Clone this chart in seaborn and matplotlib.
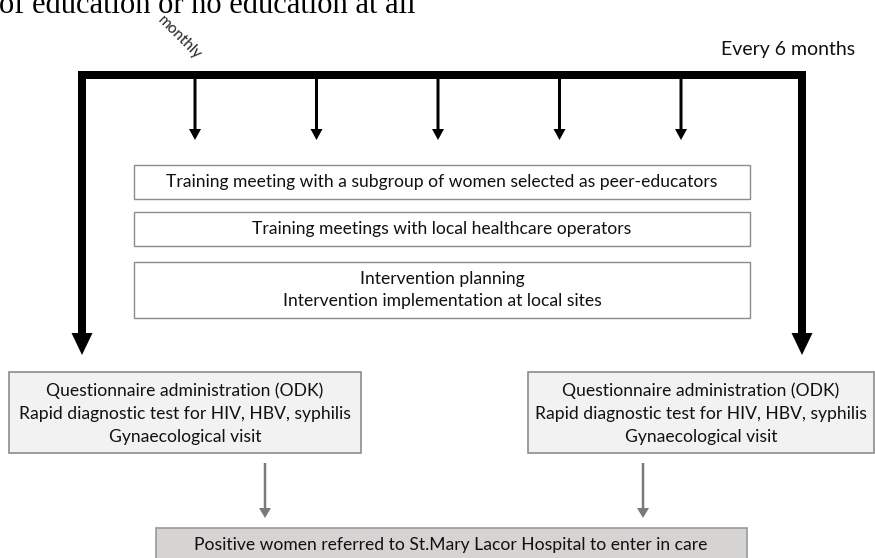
import matplotlib
matplotlib.use("Agg")
import matplotlib.pyplot as plt
from matplotlib.patches import Rectangle
import seaborn as sns

# texts of the flow diagram
header_text = "of education or no education at all"
monthly_label = "monthly"
six_month_label = "Every 6 months"
middle_steps = [
    "Training meeting with a subgroup of women selected as peer-educators",
    "Training meetings with local healthcare operators",
    "Intervention planning\nIntervention implementation at local sites",
]
visit_steps = "Questionnaire administration (ODK)\nRapid diagnostic test for HIV, HBV, syphilis\nGynaecological visit"
visit_rounds = ["baseline", "6 months"]
referral_step = "Positive women referred to St.Mary Lacor Hospital to enter in care"
monthly_meetings = [1, 2, 3, 4, 5]

sns.set_theme(style="white")
plt.rcParams["font.family"] = ["Lato", "DejaVu Sans"]

W, H = 875, 558
fig = plt.figure(figsize=(W / 100, H / 100), dpi=100)
ax = fig.add_axes([0, 0, 1, 1])
ax.set_xlim(0, W)
ax.set_ylim(H, 0)
ax.axis("off")

txt = 12.6

# header line cut at top of the page
ax.text(-1, 13, header_text, fontsize=22, family="Liberation Serif",
        va="baseline", ha="left", color="black")

# thick frame: top bar + two big arrows
x_left, x_right = 82, 802
bar_top, bar_h = 71, 8
ax.add_patch(Rectangle((x_left - 4, bar_top), x_right - x_left + 8, bar_h,
                       color="black", lw=0))
for x in (x_left, x_right):
    ax.arrow(x, bar_top, 0, 284, width=8, head_width=21, head_length=22,
             length_includes_head=True, color="black", lw=0)

# monthly arrows
x0, step = 195, 121.5
for i, m in enumerate(monthly_meetings):
    ax.arrow(x0 + i * step, bar_top + bar_h, 0, 61, width=3, head_width=12,
             head_length=11, length_includes_head=True, color="black", lw=0)

ax.text(179, 38, monthly_label, rotation=-45, fontsize=11, ha="center",
        va="center", color="#222222")
ax.text(855, 50, six_month_label, fontsize=14, ha="right", va="center",
        color="#111111")

# middle boxes
box_x0, box_x1 = 134, 750
box_rows = [(165, 199), (212, 246), (262, 318)]
for (y0, y1), label in zip(box_rows, middle_steps):
    ax.add_patch(Rectangle((box_x0, y0), box_x1 - box_x0, y1 - y0,
                           facecolor="white", edgecolor="#8c8c8c", lw=1))
    ax.text((box_x0 + box_x1) / 2, (y0 + y1) / 2, label, fontsize=txt,
            ha="center", va="center", linespacing=1.45, color="#111111")

# visit boxes
visit_boxes = [(9, 361), (528, 874)]
for (bx0, bx1), rnd in zip(visit_boxes, visit_rounds):
    ax.add_patch(Rectangle((bx0, 372), bx1 - bx0, 81,
                           facecolor="#f2f2f2", edgecolor="#8c8c8c", lw=1.2))
    ax.text((bx0 + bx1) / 2, 414, visit_steps, fontsize=txt, ha="center",
            va="center", linespacing=1.55, color="#111111")

# grey arrows to referral box
for gx in (265, 643):
    ax.arrow(gx, 463, 0, 55, width=2.5, head_width=12, head_length=10,
             length_includes_head=True, color="#7a7a7a", lw=0)

ax.add_patch(Rectangle((156, 528), 591, 40, facecolor="#d6d3d3",
                       edgecolor="#9a9a9a", lw=1.2))
ax.text(451, 545, referral_step, fontsize=txt, ha="center", va="center",
        color="#111111")

fig.savefig("out.png", dpi=100)
